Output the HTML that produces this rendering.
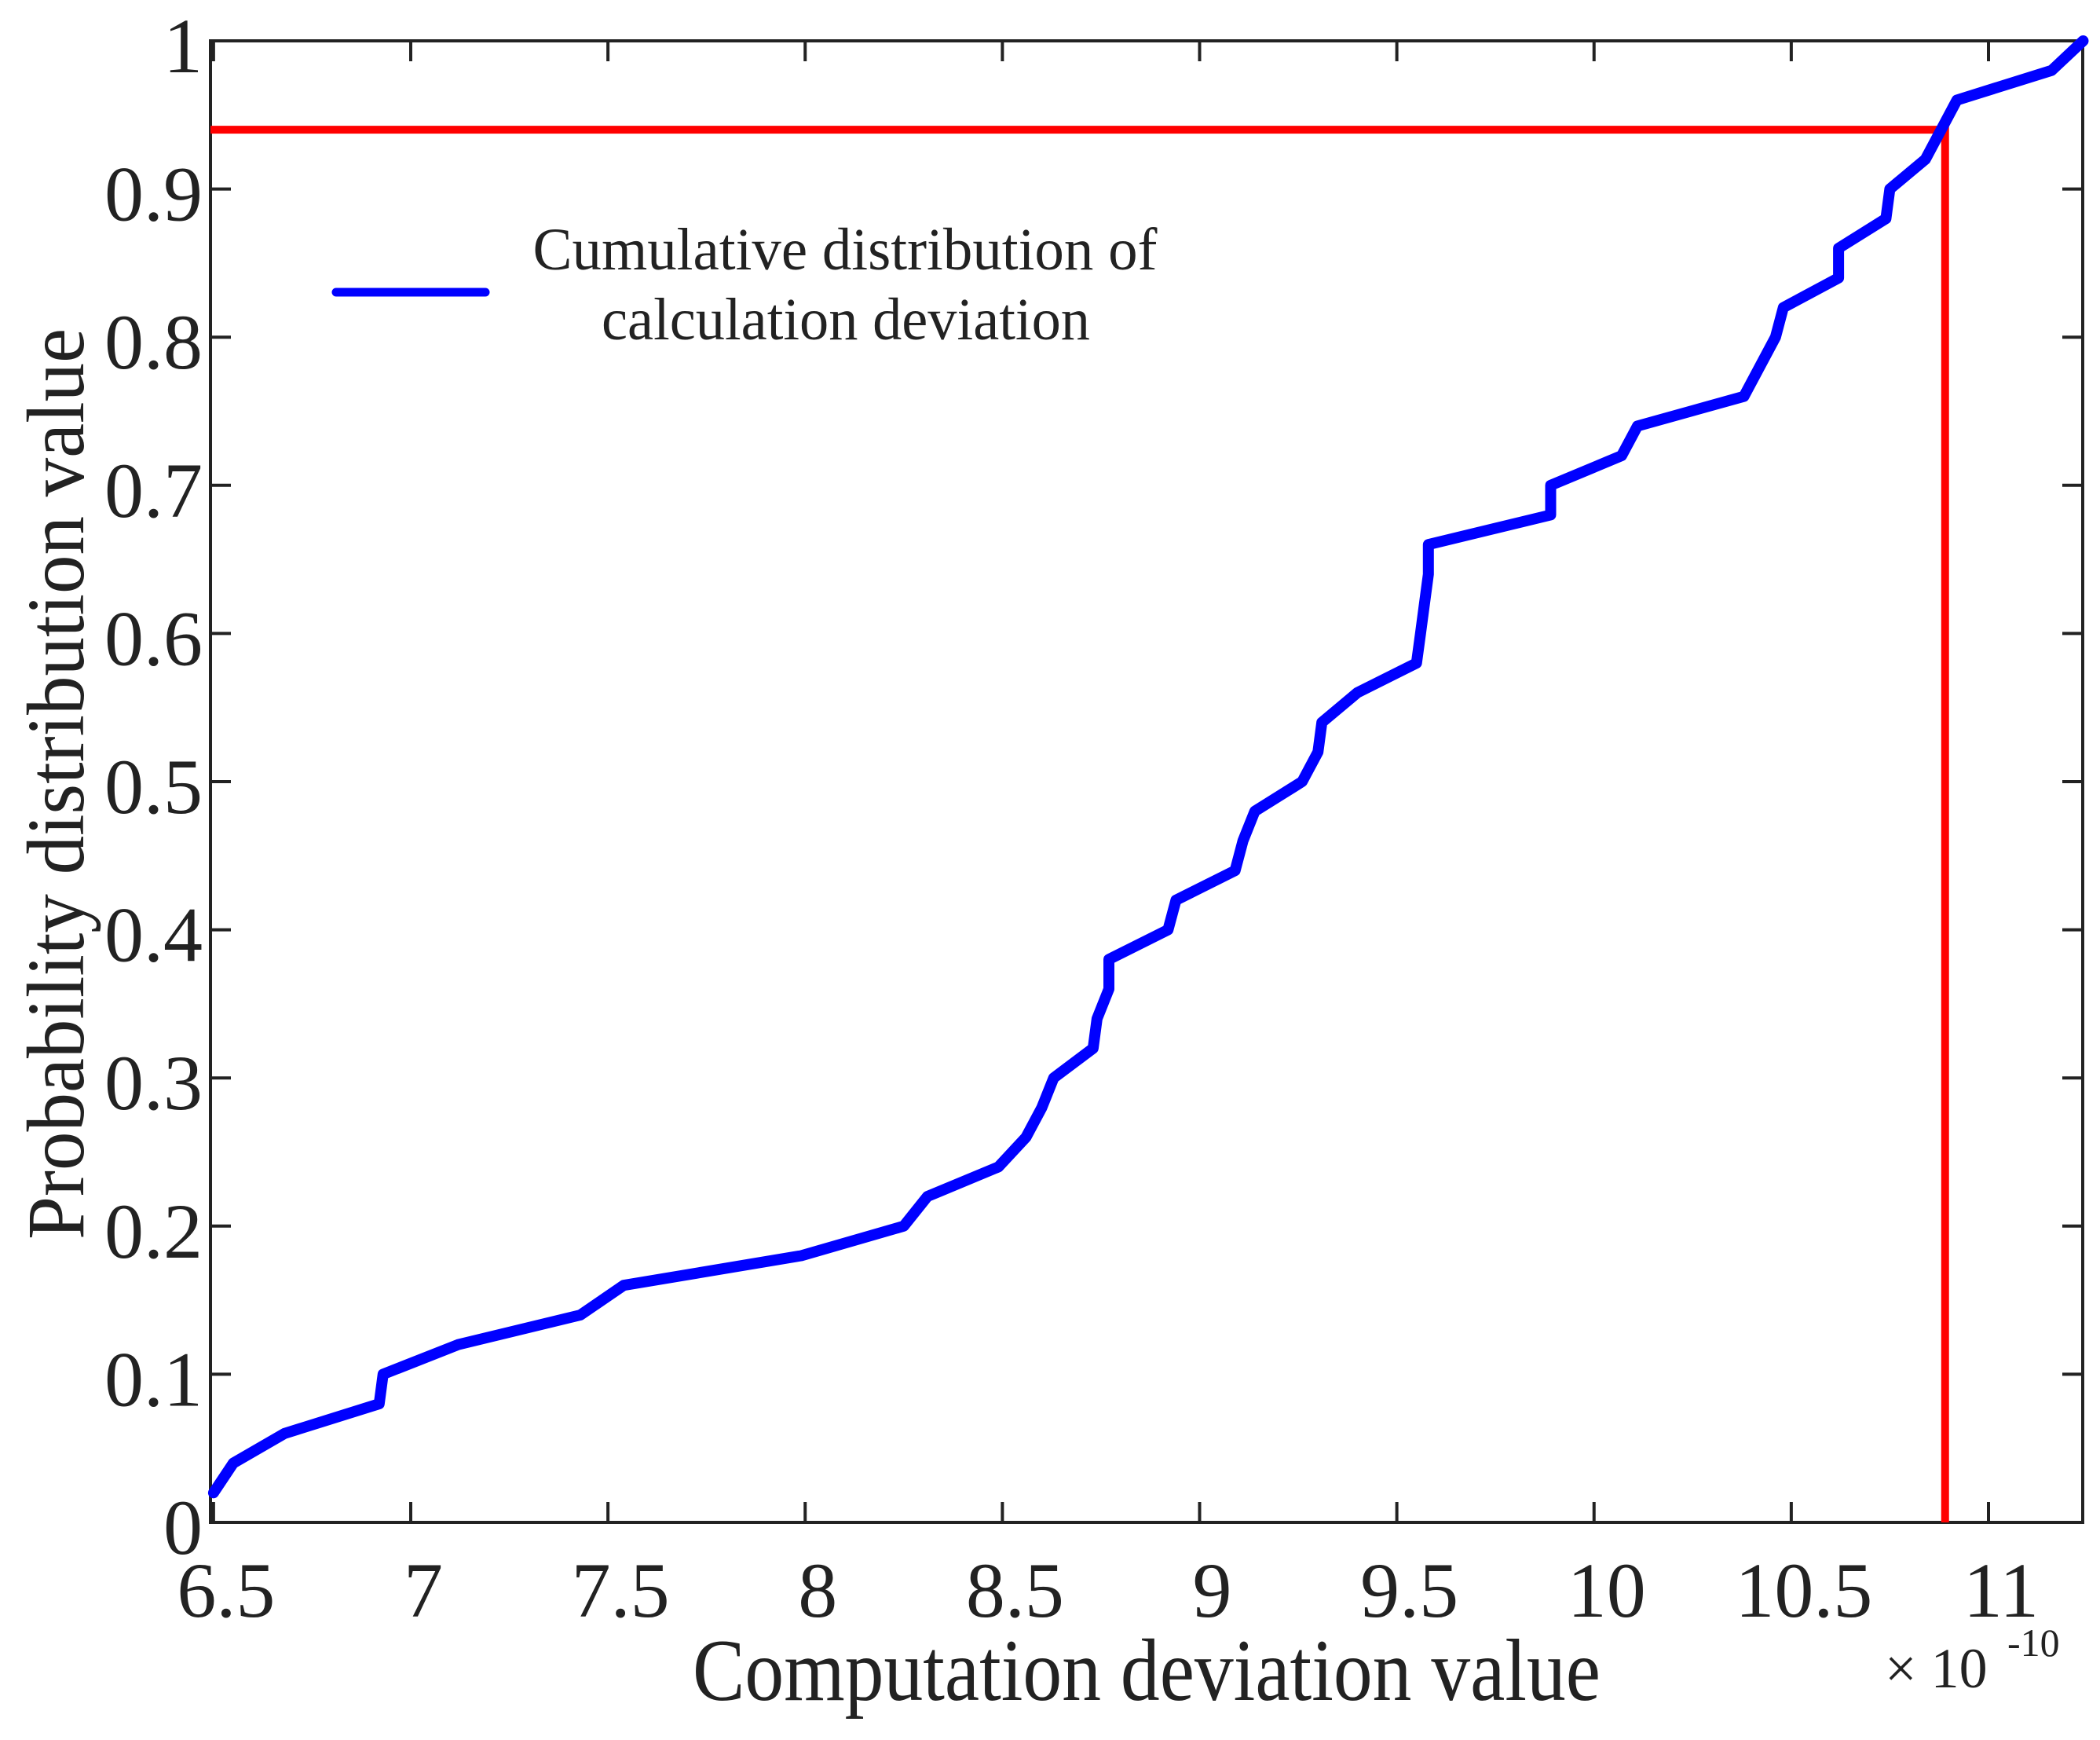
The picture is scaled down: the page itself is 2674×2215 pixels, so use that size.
<!DOCTYPE html>
<html><head><meta charset="utf-8"><style>
html,body{margin:0;padding:0;background:#fff;}
svg{display:block;}
text{font-family:"Liberation Serif",serif;fill:#222;}
</style></head><body>
<svg id="chart" width="2674" height="2215" viewBox="0 0 2674 2215" xmlns="http://www.w3.org/2000/svg">
<rect width="2674" height="2215" fill="#fff"/>
<g id="axes"></g>
<g id="marks"></g>
<text x="1460" y="2164" font-size="112" text-anchor="middle" textLength="1156" lengthAdjust="spacingAndGlyphs">Computation deviation value</text>
<text transform="translate(106,998) rotate(-90)" font-size="104" text-anchor="middle" textLength="1160" lengthAdjust="spacingAndGlyphs">Probability distribution value</text>
<text x="2400" y="2148" font-size="72">× 10</text>
<text x="2556" y="2108" font-size="50">-10</text>
<g>
<line x1="428" y1="372" x2="618" y2="372" stroke="#0000ff" stroke-width="11" stroke-linecap="round"/>
<text x="1076" y="343" font-size="76" text-anchor="middle" textLength="795" lengthAdjust="spacingAndGlyphs">Cumulative distribution of</text>
<text x="1077" y="432" font-size="76" text-anchor="middle" textLength="622" lengthAdjust="spacingAndGlyphs">calculation deviation</text>
</g>
</svg>
<script>
const xValues = [6.50,6.55,6.68,6.92,6.93,7.12,7.43,7.54,7.99,8.25,8.31,8.49,8.56,8.60,8.63,8.73,8.74,8.77,8.77,8.92,8.94,9.09,9.11,9.14,9.26,9.30,9.31,9.40,9.55,9.56,9.58,9.58,9.89,9.89,10.07,10.11,10.38,10.46,10.48,10.62,10.62,10.74,10.75,10.84,10.92,11.16,11.24];
const yValues = [0.02,0.04,0.06,0.08,0.10,0.12,0.14,0.16,0.18,0.20,0.22,0.24,0.26,0.28,0.30,0.32,0.34,0.36,0.38,0.40,0.42,0.44,0.46,0.48,0.50,0.52,0.54,0.56,0.58,0.60,0.64,0.66,0.68,0.70,0.72,0.74,0.76,0.80,0.82,0.84,0.86,0.88,0.90,0.92,0.96,0.98,1.00];
const xTicks = [6.5,7,7.5,8,8.5,9,9.5,10,10.5,11];
const xTickLabels = ["6.5","7","7.5","8","8.5","9","9.5","10","10.5","11"];
const yTicks = [0,0.1,0.2,0.3,0.4,0.5,0.6,0.7,0.8,0.9,1];
const yTickLabels = ["0","0.1","0.2","0.3","0.4","0.5","0.6","0.7","0.8","0.9","1"];
const thresholdX = [10.89];
const thresholdY = [0.94];

const L=268,R=2652,T=52,B=1938;
function sx(v){return 523+(v-7)*(2532-523)/4;}
function sy(v){return B-v*(B-T);}
const NS="http://www.w3.org/2000/svg";
function mk(tag,attrs,parent){const e=document.createElementNS(NS,tag);for(const k in attrs)e.setAttribute(k,attrs[k]);parent.appendChild(e);return e;}
const axes=document.getElementById('axes'), marks=document.getElementById('marks');

const frame=mk('rect',{x:L,y:T,width:R-L,height:B-T,fill:'none',stroke:'#222','stroke-width':4},axes);



xTicks.forEach((t,i)=>{
  const x=sx(t);
  const a=mk('line',{x1:x,y1:B,x2:x,y2:B-26,stroke:'#222','stroke-width':4},axes);
  
  
  const b=mk('line',{x1:x,y1:T,x2:x,y2:T+26,stroke:'#222','stroke-width':4},axes);
  
  
  const tx=mk('text',{x:x+16,y:2058,'font-size':100,'text-anchor':'middle'},axes);
  tx.textContent=xTickLabels[i];
  
  
});
yTicks.forEach((t,i)=>{
  const y=sy(t);
  const a=mk('line',{x1:L,y1:y,x2:L+26,y2:y,stroke:'#222','stroke-width':4},axes);
  
  
  const b=mk('line',{x1:R,y1:y,x2:R-26,y2:y,stroke:'#222','stroke-width':4},axes);
  
  
  const tx=mk('text',{x:258,y:y+40,'font-size':100,'text-anchor':'end'},axes);
  tx.textContent=yTickLabels[i];
  
  
});

const hl=mk('line',{x1:L,y1:sy(thresholdY[0]),x2:sx(thresholdX[0]),y2:sy(thresholdY[0]),stroke:'#ff0000','stroke-width':10},marks);


const vl=mk('line',{x1:sx(thresholdX[0]),y1:sy(thresholdY[0])-5,x2:sx(thresholdX[0]),y2:B,stroke:'#ff0000','stroke-width':10},marks);



const pts=xValues.map((x,i)=>sx(x).toFixed(1)+','+sy(yValues[i]).toFixed(1)).join(' ');
const pl=mk('polyline',{points:pts,fill:'none',stroke:'#0000ff','stroke-width':14,'stroke-linejoin':'round','stroke-linecap':'round'},marks);


</script>
</body></html>
